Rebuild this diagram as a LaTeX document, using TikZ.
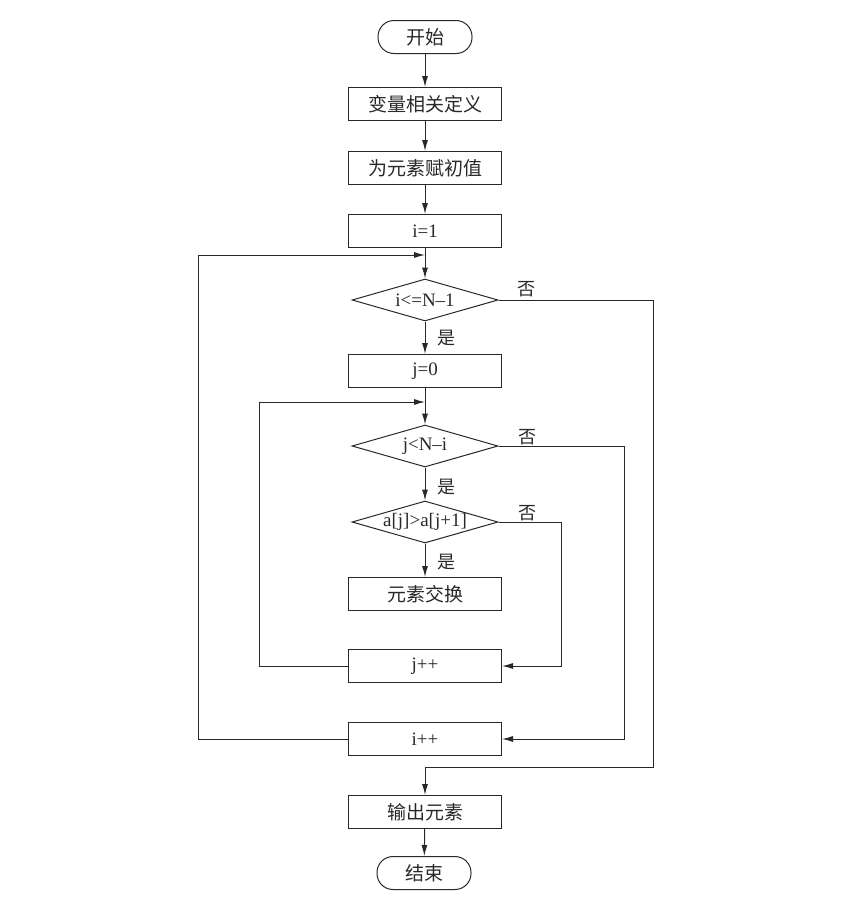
\documentclass[tikz,border=0pt]{standalone}
\usepackage{fontspec}
\setmainfont{Liberation Serif}
\newfontfamily\cjk{Noto Sans CJK SC}
\usetikzlibrary{arrows.meta,shapes.geometric}
\definecolor{ink}{RGB}{40,40,40}
\begin{document}
\begin{tikzpicture}[x=1pt,y=-1pt,
  every node/.style={font=\fontsize{19}{22}\selectfont, text=ink},
  procbox/.style={draw=ink, line width=1pt, minimum width=153pt, minimum height=33pt, inner sep=0pt},
  term/.style={draw=ink, line width=1pt, rounded corners=16pt, minimum width=94pt, minimum height=33pt, inner sep=0pt},
  decision/.style={draw=ink, line width=1pt, diamond, aspect=3.48, minimum width=146pt, minimum height=42pt, inner sep=0pt},
  flow/.style={draw=ink, line width=1pt, -{Latex[length=11pt,width=6pt]}},
  plain/.style={draw=ink, line width=1pt},
  lbl/.style={inner sep=0pt, font=\cjk\fontsize{18}{21}\selectfont},
  zh/.style={font=\cjk\fontsize{19}{22}\selectfont}
]
\useasboundingbox (0,0) rectangle (864,902);

\node[term, zh] (start) at (425,37) {开始};
\node[procbox, zh] (b1) at (425,104) {变量相关定义};
\node[procbox, zh] (b2) at (425,168) {为元素赋初值};
\node[procbox] (b3) at (425,231) {i=1};
\node[decision, label={[inner sep=0pt]center:i<=N–1}] (d1) at (425,300) {};
\node[procbox] (j0) at (425,371) {j=0};
\node[decision, label={[inner sep=0pt]center:j<N–i}] (d2) at (425,446) {};
\node[decision, label={[inner sep=0pt]center:a[j]>a[j+1]}] (d3) at (425,522) {};
\node[procbox, zh] (sw) at (425,594) {元素交换};
\node[procbox] (jpp) at (425,666) {j++};
\node[procbox] (ipp) at (425,739) {i++};
\node[procbox, zh] (out) at (425,812) {输出元素};
\node[term, zh] (stop) at (424,873) {结束};

\coordinate (iloop) at (425,255);
\coordinate (jloop) at (425,402);
\coordinate (ojoin) at (425,767);

\draw[flow] (start) -- (b1);
\draw[flow] (b1) -- (b2);
\draw[flow] (b2) -- (b3);
\draw[flow] (b3) -- (d1);
\draw[flow] (d1) -- (j0);
\draw[flow] (j0) -- (d2);
\draw[flow] (d2) -- (d3);
\draw[flow] (d3) -- (sw);
\draw[flow] (out) -- (stop);

\draw[flow] (ipp.west) -- ++(-150,0) |- (iloop);
\draw[flow] (jpp.west) -- ++(-89,0) |- (jloop);

\draw[plain] (d1.east) -- ++(155,0) |- (ojoin);
\draw[flow] (ojoin) -- (out.north);
\draw[flow] (d2.east) -- ++(126,0) |- (ipp.east);
\draw[flow] (d3.east) -- ++(63,0) |- (jpp.east);

\node[lbl] (n1) at (526,289) {否};
\node[lbl] (y1) at (446,338) {是};
\node[lbl] (n2) at (527,437) {否};
\node[lbl] (y2) at (446,487) {是};
\node[lbl] (n3) at (527,513) {否};
\node[lbl] (y3) at (446,562) {是};
\end{tikzpicture}
\end{document}
